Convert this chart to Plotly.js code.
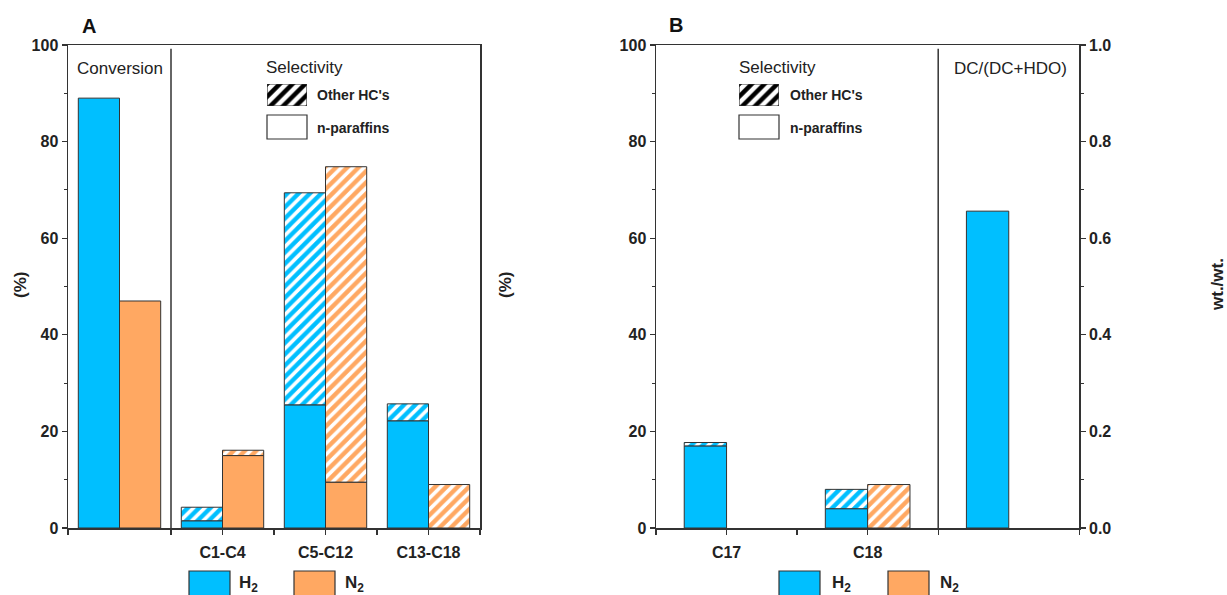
<!DOCTYPE html>
<html>
<head>
<meta charset="utf-8">
<script src="https://cdn.plot.ly/plotly-3.0.1.min.js"></script>
<style>html,body{margin:0;padding:0;background:#fff}#chart{width:1227px;height:595px}</style>
</head>
<body>
<div id="chart"></div>
<script>
// ---------- data ----------
const groupsA = ["Conversion", "C1-C4", "C5-C12", "C13-C18"];
const tickLabelsA = ["", "C1-C4", "C5-C12", "C13-C18"];
const h2ParaffinsA = [89.0, 1.5, 25.5, 22.2];
const h2OtherA     = [0.0, 2.8, 43.9, 3.5];
const n2ParaffinsA = [47.0, 15.0, 9.5, 0.0];
const n2OtherA     = [0.0, 1.1, 65.3, 9.0];

const groupsB = ["C17", "C18", "DC/(DC+HDO)"];
const tickLabelsB = ["C17", "C18", ""];
const h2ParaffinsB = [17.0, 4.0];
const h2OtherB     = [0.7, 4.0];
const n2ParaffinsB = [0.0, 0.0];
const n2OtherB     = [0.0, 9.0];
const dcRatioH2    = [0.656];

const seriesNames = ["H<sub>2</sub>", "N<sub>2</sub>"];
const hatchNames = ["Other HC's", "n-paraffins"];

// ---------- style ----------
const BLUE = "#00BFFF", ORANGE = "#FFA862", EDGE = "#333333";
const W = 1227, H = 595;
const px = v => v / W, py = v => 1 - v / H;
const FONT = "Liberation Sans, Arial, sans-serif";
const nz = arr => arr.map(v => (v === 0 ? null : v));

function hatch(color) {
  return {shape: "/", fgcolor: "#ffffff", bgcolor: color, size: 8, solidity: 0.45, fillmode: "replace"};
}
const idxA = groupsA.map((_, i) => i);
const idxB = groupsB.map((_, i) => i);

const traces = [];
function addPair(xa, ya, xs, par, oth, color, offset, width) {
  traces.push({type: "bar", x: xs, y: nz(par), xaxis: xa, yaxis: ya, offset: offset, width: width,
    marker: {color: color, line: {color: EDGE, width: 1}}, showlegend: false, hoverinfo: "skip"});
  traces.push({type: "bar", x: xs, y: nz(oth), base: par, xaxis: xa, yaxis: ya, offset: offset, width: width,
    marker: {color: color, pattern: hatch(color), line: {color: EDGE, width: 1}}, showlegend: false, hoverinfo: "skip"});
}
addPair("x", "y", idxA, h2ParaffinsA, h2OtherA, BLUE, -0.4, 0.4);
addPair("x", "y", idxA, n2ParaffinsA, n2OtherA, ORANGE, 0, 0.4);
addPair("x2", "y2", idxB.slice(0, 2), h2ParaffinsB, h2OtherB, BLUE, -0.3, 0.3);
addPair("x2", "y2", idxB.slice(0, 2), n2ParaffinsB, n2OtherB, ORANGE, 0, 0.3);
traces.push({type: "bar", x: [idxB[2]], y: dcRatioH2, xaxis: "x2", yaxis: "y3", offset: -0.3, width: 0.3,
  marker: {color: BLUE, line: {color: EDGE, width: 1}}, showlegend: false, hoverinfo: "skip"});

// hatch legend swatches (on hidden mini axes)
[["x3", "y4"], ["x4", "y5"]].forEach(([xa, ya]) => {
  traces.push({type: "bar", x: [0], y: [1], width: [1], xaxis: xa, yaxis: ya, cliponaxis: false,
    marker: {color: "#ffffff", pattern: {shape: "/", fgcolor: "#000000", bgcolor: "#ffffff", size: 9, solidity: 0.5, fillmode: "replace"},
      line: {color: EDGE, width: 1.2}}, showlegend: false, hoverinfo: "skip"});
});

const tickFont = {family: FONT, size: 16, color: "#222", weight: "bold"};
function yax(extra) {
  return Object.assign({
    domain: [py(528), py(45)], range: [0, 100], dtick: 20, ticks: "outside", ticklen: 5, tickwidth: 1.2,
    tickcolor: EDGE, showline: true, linecolor: EDGE, linewidth: 1.5, mirror: false, showgrid: false,
    zeroline: false, tickfont: tickFont, fixedrange: true,
    minor: {dtick: 10, ticks: "outside", ticklen: 3, tickcolor: EDGE, tickwidth: 1}
  }, extra || {});
}
function xax(domain, n, labels, anchor) {
  const minorVals = [];
  for (let i = 0; i <= n; i++) minorVals.push(i - 0.5);
  const vals = [], texts = [];
  labels.forEach((t, i) => { if (t) { vals.push(i); texts.push(t); } });
  return {
    domain: domain, anchor: anchor, range: [-0.5, n - 0.5], tickmode: "array",
    tickvals: vals, ticktext: texts, ticks: "outside", ticklen: 5, tickwidth: 1.2,
    tickcolor: EDGE, showline: true, linecolor: EDGE, linewidth: 1.5, mirror: true, showgrid: false,
    zeroline: false, tickfont: tickFont, ticklabelstandoff: 4, fixedrange: true,
    minor: {tickmode: "array", tickvals: minorVals, ticks: "outside", ticklen: 5, tickcolor: EDGE, tickwidth: 1.2}
  };
}

const layout = {
  width: W, height: H, margin: {l: 0, r: 0, t: 0, b: 0}, paper_bgcolor: "#fff", plot_bgcolor: "rgba(0,0,0,0)",
  barmode: "overlay", hovermode: false, showlegend: false, font: {family: FONT, color: "#222"},
  xaxis: xax([px(68), px(480)], groupsA.length, tickLabelsA, "y"),
  yaxis: yax({anchor: "x", mirror: true}),
  xaxis2: xax([px(656), px(1079.3)], groupsB.length, tickLabelsB, "y2"),
  yaxis2: yax({anchor: "x2"}),
  yaxis3: yax({anchor: "x2", overlaying: "y2", side: "right", range: [0, 1], dtick: 0.2, tickformat: ".1f",
    minor: {dtick: 0.1, ticks: "outside", ticklen: 3, tickcolor: EDGE, tickwidth: 1}}),
  xaxis3: {domain: [px(267), px(307)], anchor: "y4", range: [-0.5, 0.5], visible: false, fixedrange: true},
  yaxis4: {domain: [py(106), py(84)], anchor: "x3", range: [0, 1], visible: false, fixedrange: true},
  xaxis4: {domain: [px(739), px(779)], anchor: "y5", range: [-0.5, 0.5], visible: false, fixedrange: true},
  yaxis5: {domain: [py(106), py(84)], anchor: "x4", range: [0, 1], visible: false, fixedrange: true},
  shapes: [],
  annotations: []
};

// dividers between sections
layout.shapes.push({type: "line", xref: "x", yref: "y", x0: 0.5, x1: 0.5, y0: 0, y1: 99.2, line: {color: EDGE, width: 1.5}});
layout.shapes.push({type: "line", xref: "x2", yref: "y2", x0: 1.5, x1: 1.5, y0: 0, y1: 99.2, line: {color: EDGE, width: 1.5}});

// n-paraffins legend swatches
[267, 739].forEach(x0 => layout.shapes.push({type: "rect", xref: "paper", yref: "paper",
  x0: px(x0), x1: px(x0 + 40), y0: py(139), y1: py(115), fillcolor: "#fff", line: {color: EDGE, width: 1.2}}));

// H2 / N2 legend boxes
const legendBoxes = [[189, BLUE, 237, 0], [294, ORANGE, 343, 1], [779, BLUE, 830, 0], [888, ORANGE, 938, 1]];
legendBoxes.forEach(([x0, c, tx, si]) => {
  layout.shapes.push({type: "rect", xref: "paper", yref: "paper", x0: px(x0), x1: px(x0 + 41), y0: py(605), y1: py(571),
    fillcolor: c, line: {color: EDGE, width: 1.2}});
  layout.annotations.push({xref: "paper", yref: "paper", x: px(tx), y: py(584), xanchor: "left", yanchor: "middle",
    text: seriesNames[si], showarrow: false, font: {family: FONT, size: 17, color: "#222", weight: "bold"}});
});

function ann(text, x, y, opts) {
  layout.annotations.push(Object.assign({xref: "paper", yref: "paper", x: px(x), y: py(y), text: text,
    showarrow: false, xanchor: "left", yanchor: "middle", font: {family: FONT, size: 17, color: "#222"}}, opts || {}));
}
ann("A", 80, 26, {font: {family: FONT, size: 20, color: "#111", weight: "bold"}});
ann("B", 667, 25, {font: {family: FONT, size: 20, color: "#111", weight: "bold"}});
ann(groupsA[0], 119.5, 68, {xanchor: "center"});
ann("Selectivity", 264, 67);
ann("Selectivity", 737, 67);
ann(groupsB[2], 1010, 68, {xanchor: "center"});
[315, 788].forEach(x => {
  ann(hatchNames[0], x, 95, {font: {family: FONT, size: 14, color: "#222", weight: "bold"}});
  ann(hatchNames[1], x, 128, {font: {family: FONT, size: 14, color: "#222", weight: "bold"}});
});
ann("(%)", 20, 285, {xanchor: "center", textangle: -90, font: {family: FONT, size: 17, color: "#222", weight: "bold"}});
ann("(%)", 505, 285, {xanchor: "center", textangle: -90, font: {family: FONT, size: 17, color: "#222", weight: "bold"}});
ann("wt./wt.", 1217, 285, {xanchor: "center", textangle: -90, font: {family: FONT, size: 17, color: "#222", weight: "bold"}});

Plotly.newPlot("chart", traces, layout, {staticPlot: true, displayModeBar: false});
</script>
</body>
</html>
